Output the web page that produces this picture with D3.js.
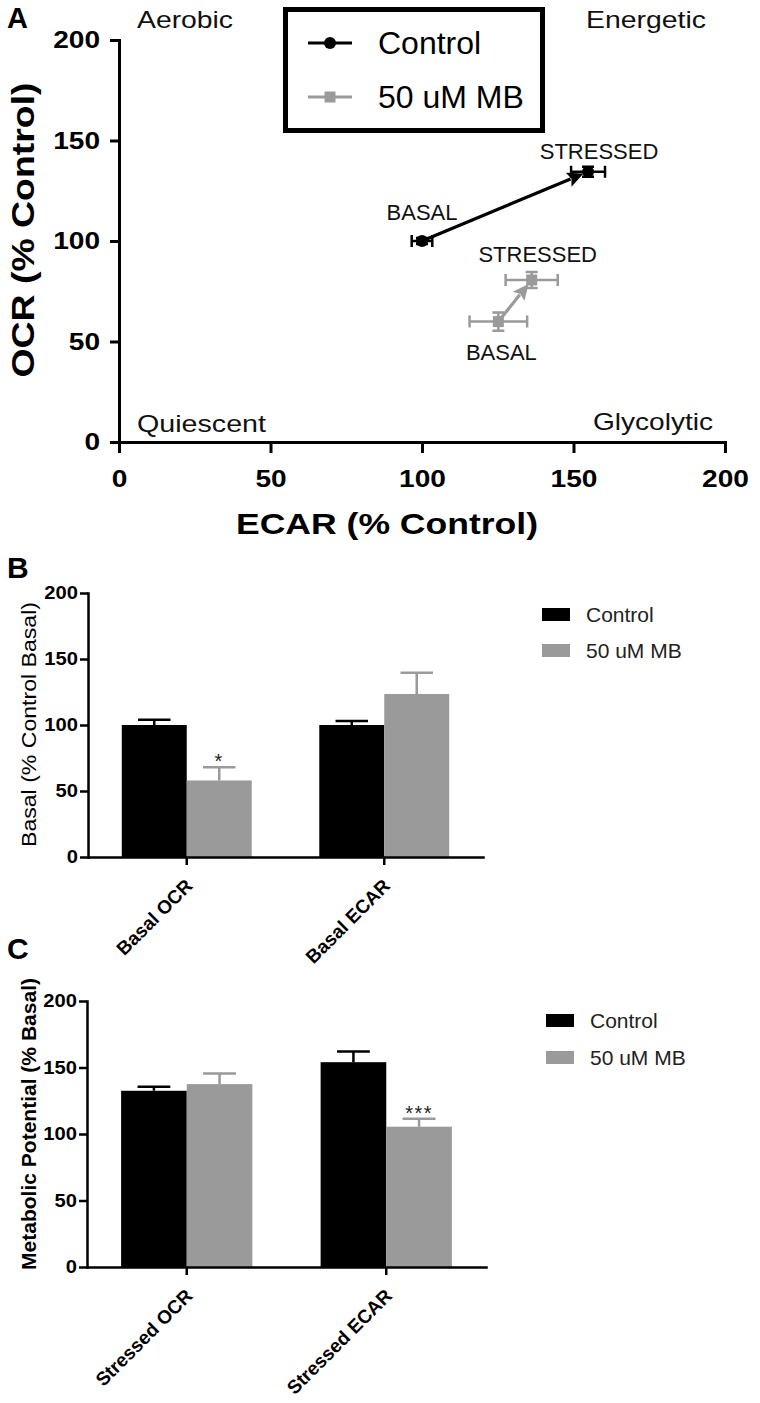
<!DOCTYPE html>
<html><head><meta charset="utf-8">
<script src="https://cdn.jsdelivr.net/npm/d3@7"></script>
<style>html,body{margin:0;padding:0;background:#fff;} svg{display:block;}</style>
</head><body><svg id="chart" width="760" height="1403"></svg>
<script>
// ---------------- data ----------------
const quadrantLabels = ["Aerobic", "Energetic", "Quiescent", "Glycolytic"];
const groupNames = ["Control", "50 uM MB"];
const stateNames = ["BASAL", "STRESSED"];
const axisTicks = [0, 50, 100, 150, 200];

const controlECAR = [100, 154.8];
const controlECARErr = [3.4, 5.6];
const controlOCR = [100, 134.5];
const controlOCRErr = [1.5, 2.5];
const mbECAR = [125.2, 136.2];
const mbECARErr = [9.5, 8.6];
const mbOCR = [59.9, 80.6];
const mbOCRErr = [4.5, 4.0];

const basalCategories = ["Basal OCR", "Basal ECAR"];
const basalControl = [100, 100];
const basalControlErr = [4, 3];
const basalMB = [58, 123.5];
const basalMBErr = [10, 16];
const basalSig = ["*", ""];

const stressedCategories = ["Stressed OCR", "Stressed ECAR"];
const stressedControl = [132.5, 154];
const stressedControlErr = [3, 8];
const stressedMB = [137.5, 105.5];
const stressedMBErr = [8, 6];
const stressedSig = ["", "***"];

// ---------------- style ----------------
const FONT = "'Liberation Sans', Arial, Helvetica, sans-serif";
const BLACK = "#000";
const GRAY = "#9a9a9a";
const colors = [BLACK, GRAY];

const svg = d3.select("#chart").attr("font-family", FONT);

function widen(sel, f) {
  sel.each(function () {
    const w = this.getComputedTextLength();
    d3.select(this).attr("textLength", w * f).attr("lengthAdjust", "spacingAndGlyphs");
  });
}
function fitTo(sel, w) {
  sel.attr("textLength", w).attr("lengthAdjust", "spacingAndGlyphs");
}

// ================= Panel A =================
const gA = svg.append("g");
const xA = d3.scaleLinear().domain([0, 200]).range([119, 725]);
const yA = d3.scaleLinear().domain([0, 200]).range([442, 40]);

const yAxA = gA.append("g").attr("transform", `translate(${xA(0)},0)`)
  .call(d3.axisLeft(yA).tickValues(axisTicks).tickSize(9).tickPadding(10).tickSizeOuter(0));
const xAxA = gA.append("g").attr("transform", `translate(0,${yA(0)})`)
  .call(d3.axisBottom(xA).tickValues(axisTicks).tickSize(11).tickPadding(17).tickSizeOuter(0));
[yAxA, xAxA].forEach(a => {
  a.attr("font-family", FONT).attr("font-size", 24).attr("font-weight", "bold");
  a.select(".domain").attr("stroke-width", 3).attr("stroke-linecap", "square");
  a.selectAll(".tick line").attr("stroke-width", 3);
  a.selectAll(".tick text").attr("fill", BLACK);
  widen(a.selectAll(".tick text"), 1.17);
});

// axis titles
gA.append("text").attr("x", 387).attr("y", 534).attr("text-anchor", "middle")
  .attr("font-size", 30).attr("font-weight", "bold").text("ECAR (% Control)")
  .call(fitTo, 302);
gA.append("text").attr("transform", "translate(34,230) rotate(-90)").attr("text-anchor", "middle")
  .attr("font-size", 31).attr("font-weight", "bold").text("OCR (% Control)")
  .call(fitTo, 295);

// panel letter
svg.append("text").attr("x", 7).attr("y", 28).attr("font-size", 29).attr("font-weight", "bold").text("A");

// quadrant labels
const quadPos = [
  { x: 137, y: 28, anchor: "start", w: 96 },
  { x: 706, y: 28, anchor: "end", w: 120 },
  { x: 137, y: 432, anchor: "start", w: 129 },
  { x: 713, y: 430, anchor: "end", w: 120 }
];
gA.selectAll("text.quad").data(quadrantLabels).join("text").attr("class", "quad")
  .attr("x", (d, i) => quadPos[i].x).attr("y", (d, i) => quadPos[i].y)
  .attr("text-anchor", (d, i) => quadPos[i].anchor)
  .attr("font-size", 24).attr("fill", "#111").text(d => d)
  .each(function (d, i) { fitTo(d3.select(this), quadPos[i].w); });

// series
const seriesA = [
  { name: groupNames[0], color: BLACK, shape: "circle",
    pts: stateNames.map((s, i) => ({ s, ex: controlECAR[i], oy: controlOCR[i], dx: controlECARErr[i], dy: controlOCRErr[i] })),
    labelOff: [[0, -21], [11, -13]] },
  { name: groupNames[1], color: GRAY, shape: "square",
    pts: stateNames.map((s, i) => ({ s, ex: mbECAR[i], oy: mbOCR[i], dx: mbECARErr[i], dy: mbOCRErr[i] })),
    labelOff: [[3, 38], [6, -18]] }
];

seriesA.forEach(ser => {
  const g = gA.append("g");
  const cap = 6;
  ser.pts.forEach(p => {
    const cx = xA(p.ex), cy = yA(p.oy);
    const x1 = xA(p.ex - p.dx), x2 = xA(p.ex + p.dx);
    const y1 = yA(p.oy - p.dy), y2 = yA(p.oy + p.dy);
    const path = `M${x1},${cy}H${x2}M${x1},${cy - cap}V${cy + cap}M${x2},${cy - cap}V${cy + cap}` +
      `M${cx},${y1}V${y2}M${cx - cap},${y1}H${cx + cap}M${cx - cap},${y2}H${cx + cap}`;
    g.append("path").attr("d", path).attr("stroke", ser.color).attr("stroke-width", 2.5).attr("fill", "none");
  });
  const a = ser.pts[0], b = ser.pts[1];
  const ax = xA(a.ex), ay = yA(a.oy), bx = xA(b.ex), by = yA(b.oy);
  const len = Math.hypot(bx - ax, by - ay);
  const ux = (bx - ax) / len, uy = (by - ay) / len;
  const tipX = bx - ux * 5, tipY = by - uy * 5;
  const hl = 16, hw = 7.5;
  const baseX = tipX - ux * hl, baseY = tipY - uy * hl;
  g.append("line").attr("x1", ax).attr("y1", ay).attr("x2", baseX + ux * 2).attr("y2", baseY + uy * 2)
    .attr("stroke", ser.color).attr("stroke-width", 3.2);
  g.append("path")
    .attr("d", `M${tipX},${tipY}L${baseX - uy * hw},${baseY + ux * hw}L${baseX + ux * 3},${baseY + uy * 3}L${baseX + uy * hw},${baseY - ux * hw}Z`)
    .attr("fill", ser.color);
  ser.pts.forEach(p => {
    if (ser.shape === "circle") {
      g.append("circle").attr("cx", xA(p.ex)).attr("cy", yA(p.oy)).attr("r", 6).attr("fill", ser.color);
    } else {
      g.append("rect").attr("x", xA(p.ex) - 5.5).attr("y", yA(p.oy) - 5.5).attr("width", 11).attr("height", 11).attr("fill", ser.color);
    }
  });
  ser.pts.forEach((p, i) => {
    g.append("text").attr("x", xA(p.ex) + ser.labelOff[i][0]).attr("y", yA(p.oy) + ser.labelOff[i][1])
      .attr("text-anchor", "middle").attr("font-size", 22).attr("fill", "#111").text(p.s);
  });
});

// legend A
const legA = gA.append("g");
legA.append("rect").attr("x", 285.5).attr("y", 9.5).attr("width", 257).attr("height", 121)
  .attr("fill", "#fff").attr("stroke", BLACK).attr("stroke-width", 5);
seriesA.forEach((ser, i) => {
  const ly = 43 + i * 54;
  legA.append("line").attr("x1", 308).attr("x2", 352).attr("y1", ly).attr("y2", ly)
    .attr("stroke", ser.color).attr("stroke-width", 3);
  if (ser.shape === "circle") legA.append("circle").attr("cx", 330).attr("cy", ly).attr("r", 6).attr("fill", ser.color);
  else legA.append("rect").attr("x", 324.5).attr("y", ly - 5.5).attr("width", 11).attr("height", 11).attr("fill", ser.color);
  legA.append("text").attr("x", 378).attr("y", ly + 11).attr("font-size", 32).attr("fill", BLACK).text(ser.name);
});

// ================= Bar panels =================
function barPanel(cfg) {
  const g = svg.append("g");
  const yS = d3.scaleLinear().domain([0, 200]).range([cfg.y0, cfg.y200]);
  const xS = d3.scaleBand().domain(cfg.categories).range([cfg.xL, cfg.xR]).paddingInner(0.342).paddingOuter(0.171);
  const xG = d3.scaleBand().domain(groupNames).range([0, xS.bandwidth()]);
  const vals = [cfg.ctrl, cfg.mb], errs = [cfg.ctrlErr, cfg.mbErr];

  groupNames.forEach((gn, gi) => {
    g.selectAll(null).data(cfg.categories).join("rect")
      .attr("x", c => xS(c) + xG(gn)).attr("width", xG.bandwidth())
      .attr("y", (c, ci) => yS(vals[gi][ci])).attr("height", (c, ci) => yS(0) - yS(vals[gi][ci]))
      .attr("fill", colors[gi]);
  });
  groupNames.forEach((gn, gi) => {
    g.selectAll(null).data(cfg.categories).join("path")
      .attr("d", (c, ci) => {
        const cx = xS(c) + xG(gn) + xG.bandwidth() / 2;
        const top = yS(vals[gi][ci] + errs[gi][ci]);
        const hw = xG.bandwidth() / 4;
        return `M${cx},${yS(vals[gi][ci])}V${top}M${cx - hw},${top}H${cx + hw}`;
      })
      .attr("stroke", colors[gi]).attr("stroke-width", 2.5).attr("fill", "none");
  });
  g.selectAll(null).data(cfg.categories).join("text")
    .attr("x", c => xS(c) + xG(groupNames[1]) + xG.bandwidth() / 2)
    .attr("y", (c, ci) => yS(cfg.mb[ci] + cfg.mbErr[ci]) + 1)
    .attr("text-anchor", "middle").attr("font-size", 20).attr("letter-spacing", 1.5).attr("fill", "#222")
    .text((c, ci) => cfg.sig[ci]);

  const yAx = g.append("g").attr("transform", `translate(${cfg.xL},0)`)
    .call(d3.axisLeft(yS).tickValues(axisTicks).tickSize(8).tickPadding(2).tickSizeOuter(0));
  yAx.attr("font-family", FONT).attr("font-size", 18).attr("font-weight", "bold");
  yAx.selectAll(".tick text").attr("fill", BLACK);
  widen(yAx.selectAll(".tick text"), 1.12);
  const xAx = g.append("g").attr("transform", `translate(0,${cfg.y0})`)
    .call(d3.axisBottom(xS).tickSize(8).tickSizeOuter(0));
  xAx.attr("font-family", FONT).attr("font-size", 19).attr("font-weight", "bold");
  xAx.selectAll(".tick text").attr("fill", BLACK).attr("text-anchor", "end")
    .attr("x", null).attr("y", null).attr("dy", null)
    .attr("transform", "translate(7,30) rotate(-45)");
  [yAx, xAx].forEach(a => {
    a.select(".domain").attr("stroke-width", 2.5).attr("stroke-linecap", "square");
    a.selectAll(".tick line").attr("stroke-width", 2.5);
  });

  g.append("text").attr("transform", `translate(${cfg.labX},${cfg.labY}) rotate(-90)`)
    .attr("text-anchor", "middle").attr("font-size", cfg.labSize).attr("font-weight", cfg.labWeight)
    .attr("fill", BLACK).text(cfg.yLabel).call(fitTo, cfg.labLen);

  svg.append("text").attr("x", 7).attr("y", cfg.letterY).attr("font-size", 30).attr("font-weight", "bold").text(cfg.letter);

  groupNames.forEach((gn, gi) => {
    const ly = cfg.legY + gi * cfg.legGap;
    g.append("rect").attr("x", cfg.legX).attr("y", ly).attr("width", 28).attr("height", 13).attr("fill", colors[gi]);
    g.append("text").attr("x", cfg.legX + 44).attr("y", ly + 13.5).attr("font-size", 21).attr("fill", "#222").text(gn);
  });
}

barPanel({
  categories: basalCategories, ctrl: basalControl, ctrlErr: basalControlErr, mb: basalMB, mbErr: basalMBErr, sig: basalSig,
  y0: 857, y200: 593, xL: 88, xR: 483,
  yLabel: "Basal (% Control Basal)", labX: 36, labY: 724.5, labSize: 20, labWeight: "normal", labLen: 245,
  letter: "B", letterY: 578, legX: 542, legY: 608, legGap: 36
});

barPanel({
  categories: stressedCategories, ctrl: stressedControl, ctrlErr: stressedControlErr, mb: stressedMB, mbErr: stressedMBErr, sig: stressedSig,
  y0: 1267, y200: 1001, xL: 87, xR: 486,
  yLabel: "Metabolic Potential (% Basal)", labX: 36, labY: 1124, labSize: 21, labWeight: "bold", labLen: 292,
  letter: "C", letterY: 959, legX: 546, legY: 1014, legGap: 37
});
</script>
</body></html>
